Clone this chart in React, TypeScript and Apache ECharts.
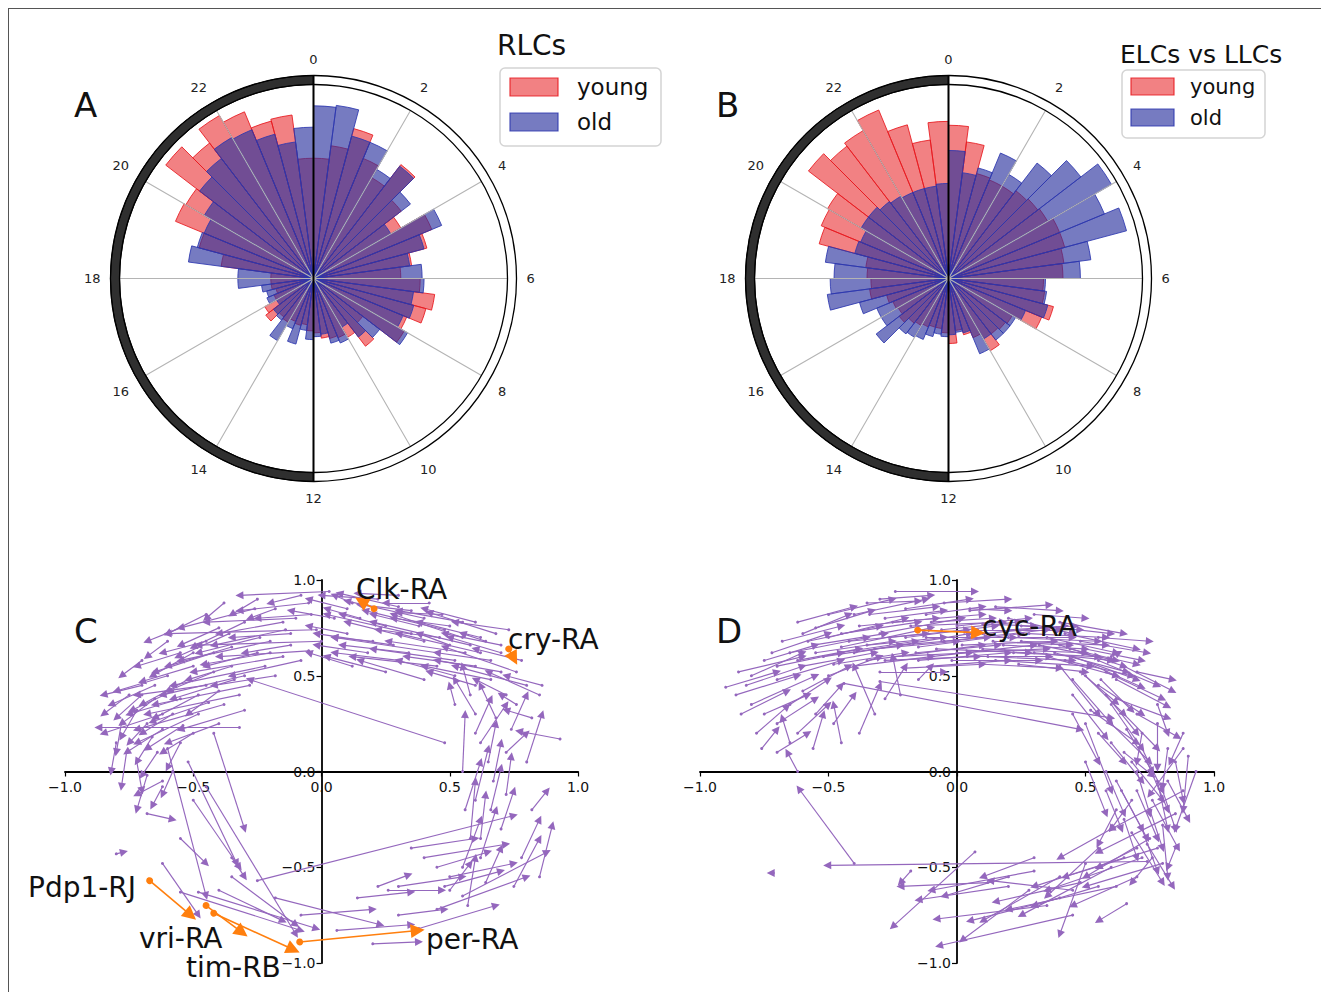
import React, { useEffect, useRef } from "react";
import * as echarts from "echarts";

// 48 half-hour bins (0h .. 23.5h)
const hourBins: string[] = Array.from({ length: 48 }, (_, i) => String(i / 2));
const hourTicks = [0, 2, 4, 6, 8, 10, 12, 14, 16, 18, 20, 22];

// Panel A (RLCs), normalised bar lengths
const aYoung = [
  0.62, 0.69, 0.80, 0.67, 0.60, 0.74, 0.57, 0.52, 0.66, 0.605, 0.51, 0.45,
  0.55, 0.63, 0.60, 0.52, 0.54, 0.32, 0.44, 0.35, 0.33, 0.32, 0.31, 0.28,
  0.27, 0.24, 0.25, 0.24, 0.26, 0.25, 0.31, 0.29, 0.22, 0.20, 0.22, 0.22,
  0.22, 0.48, 0.61, 0.77, 0.76, 0.96, 0.88, 0.97, 0.93, 0.84, 0.85, 0.62,
];
const aOld = [
  0.89, 0.90, 0.76, 0.76, 0.65, 0.73, 0.63, 0.46, 0.715, 0.59, 0.50, 0.56,
  0.57, 0.52, 0.535, 0.50, 0.56, 0.43, 0.38, 0.29, 0.36, 0.345, 0.29, 0.30,
  0.315, 0.27, 0.35, 0.28, 0.37, 0.27, 0.26, 0.22, 0.26, 0.25, 0.27, 0.39,
  0.39, 0.65, 0.62, 0.61, 0.65, 0.74, 0.78, 0.84, 0.83, 0.77, 0.71, 0.78,
];
// Panel B (ELCs vs LLCs)
const bYoung = [
  0.79, 0.71, 0.56, 0.55, 0.55, 0.57, 0.58, 0.59, 0.62, 0.62, 0.60, 0.59,
  0.49, 0.50, 0.56, 0.52, 0.38, 0.37, 0.36, 0.43, 0.33, 0.30, 0.27, 0.335,
  0.28, 0.26, 0.26, 0.27, 0.28, 0.29, 0.32, 0.30, 0.31, 0.33, 0.41, 0.40,
  0.42, 0.43, 0.69, 0.71, 0.72, 0.91, 0.86, 0.88, 0.94, 0.82, 0.72, 0.81,
];
const bOld = [
  0.66, 0.55, 0.59, 0.70, 0.62, 0.75, 0.86, 0.97, 0.87, 0.95, 0.74, 0.68,
  0.50, 0.51, 0.53, 0.43, 0.40, 0.40, 0.40, 0.36, 0.42, 0.29, 0.28, 0.29,
  0.30, 0.29, 0.31, 0.34, 0.35, 0.36, 0.47, 0.40, 0.40, 0.475, 0.63, 0.61,
  0.59, 0.64, 0.50, 0.49, 0.52, 0.52, 0.50, 0.49, 0.48, 0.48, 0.48, 0.49,
];

// Panel C arrows [x1, y1, x2, y2]
const arrowsC: number[][] = [
  [0.03, 0.94, -0.32, 0.92], [0.30, 0.86, 0.07, 0.93], [0.22, 0.90, 0.00, 0.92], [0.40, 0.80, 0.10, 0.89],
  [0.48, 0.74, 0.17, 0.84], [0.55, 0.70, 0.28, 0.82], [0.68, 0.72, 0.42, 0.83], [0.73, 0.74, 0.52, 0.78],
  [0.62, 0.62, 0.30, 0.72], [0.58, 0.66, 0.20, 0.78], [0.45, 0.62, 0.05, 0.70], [0.40, 0.68, 0.10, 0.78],
  [0.35, 0.72, 0.02, 0.82], [0.28, 0.66, -0.02, 0.72], [0.52, 0.58, 0.20, 0.64], [0.60, 0.55, 0.33, 0.60],
  [0.70, 0.52, 0.45, 0.58], [0.80, 0.45, 0.52, 0.55], [0.76, 0.52, 0.48, 0.65], [0.66, 0.48, 0.40, 0.55],
  [0.45, 0.55, 0.12, 0.60], [0.30, 0.58, 0.05, 0.62], [0.18, 0.62, -0.02, 0.66], [0.10, 0.72, -0.05, 0.76],
  [0.15, 0.80, 0.02, 0.85], [0.25, 0.76, 0.08, 0.82], [0.38, 0.76, 0.20, 0.82], [0.50, 0.66, 0.38, 0.72],
  [0.64, 0.68, 0.55, 0.72], [0.47, 0.82, 0.30, 0.83], [0.12, 0.88, 0.05, 0.92], [0.55, 0.78, 0.30, 0.84],
  [0.85, 0.40, 0.65, 0.52], [0.72, 0.40, 0.60, 0.48], [0.20, 0.68, 0.05, 0.70],
  [-0.05, 0.88, -0.32, 0.84], [-0.10, 0.80, -0.45, 0.78], [-0.02, 0.74, -0.60, 0.72], [0.00, 0.68, -0.48, 0.66],
  [-0.05, 0.63, -0.40, 0.60], [-0.12, 0.72, -0.35, 0.70], [-0.18, 0.85, -0.28, 0.80], [-0.25, 0.90, -0.35, 0.82],
  [-0.30, 0.78, -0.50, 0.65], [-0.20, 0.68, -0.55, 0.58], [-0.15, 0.60, -0.50, 0.52], [-0.22, 0.55, -0.58, 0.45],
  [-0.30, 0.50, -0.62, 0.40], [-0.35, 0.65, -0.60, 0.55], [-0.40, 0.75, -0.55, 0.66], [-0.45, 0.82, -0.60, 0.72],
  [-0.28, 0.45, -0.65, 0.35], [-0.32, 0.40, -0.68, 0.30], [-0.38, 0.35, -0.72, 0.22], [-0.32, 0.23, -0.87, 0.23],
  [-0.45, 0.45, -0.72, 0.40], [-0.50, 0.55, -0.70, 0.47], [-0.55, 0.62, -0.72, 0.55], [-0.60, 0.50, -0.80, 0.42],
  [-0.65, 0.45, -0.82, 0.35], [-0.62, 0.30, -0.85, 0.20], [-0.48, 0.30, -0.72, 0.15], [-0.55, 0.38, -0.75, 0.30],
  [-0.42, 0.62, -0.65, 0.52], [-0.08, 0.58, -0.35, 0.50], [-0.26, 0.85, -0.55, 0.75], [-0.38, 0.88, -0.45, 0.80],
  [-0.60, 0.68, -0.68, 0.60], [-0.70, 0.58, -0.78, 0.50], [-0.75, 0.40, -0.85, 0.30], [0.48, 0.15, -0.28, 0.48],
  [-0.40, 0.42, -0.52, 0.30], [-0.50, 0.20, -0.62, 0.10], [-0.68, 0.25, -0.75, 0.15], [-0.15, 0.78, -0.40, 0.72],
  [-0.76, 0.10, -0.78, -0.08], [-0.72, 0.05, -0.70, -0.10], [-0.68, -0.02, -0.72, -0.20], [-0.62, -0.08, -0.66, -0.18],
  [-0.80, 0.15, -0.82, 0.00], [-0.64, 0.10, -0.70, -0.02], [-0.58, 0.00, -0.62, -0.12], [-0.68, -0.22, -0.58, -0.25],
  [-0.55, 0.15, -0.60, 0.02], [-0.62, -0.05, -0.72, -0.12], [-0.80, -0.43, -0.77, -0.42],
  [-0.60, 0.12, -0.45, -0.65], [-0.52, 0.05, -0.33, -0.48], [-0.50, -0.15, -0.32, -0.50], [-0.45, -0.08, -0.10, -0.85],
  [-0.42, 0.20, -0.30, -0.30], [-0.55, -0.35, -0.45, -0.48], [-0.35, -0.45, -0.30, -0.55],
  [-0.62, -0.48, -0.48, -0.75], [-0.55, -0.63, -0.08, -0.83], [-0.48, -0.63, -0.02, -0.82], [-0.40, -0.62, -0.15, -0.78],
  [-0.18, -0.66, 0.23, -0.80], [-0.35, -0.55, -0.10, -0.80], [-0.25, -0.57, 0.75, -0.23], [0.20, -0.90, 0.38, -0.89],
  [0.14, -0.66, 0.35, -0.63], [0.26, -0.62, 0.47, -0.62], [0.22, -0.60, 0.34, -0.54], [0.40, -0.45, 0.72, -0.38],
  [0.45, -0.50, 0.65, -0.42], [0.35, -0.40, 0.60, -0.35], [0.50, -0.55, 0.75, -0.48], [0.30, -0.75, 0.48, -0.72],
  [0.45, -0.72, 0.80, -0.55], [0.55, -0.65, 0.88, -0.42], [0.38, -0.82, 0.68, -0.70],
  [0.55, -0.50, 0.62, -0.25], [0.58, -0.35, 0.60, -0.05], [0.55, 0.00, 0.56, 0.30], [0.60, -0.15, 0.65, 0.12],
  [0.65, 0.05, 0.68, 0.25], [0.70, -0.30, 0.75, -0.10], [0.78, -0.45, 0.85, -0.25], [0.82, -0.20, 0.88, -0.10],
  [0.62, 0.15, 0.72, 0.35], [0.72, 0.10, 0.80, 0.20], [0.80, 0.05, 0.86, 0.30], [0.68, 0.28, 0.62, 0.45],
  [0.58, 0.40, 0.55, 0.55], [0.64, -0.58, 0.70, -0.40], [0.75, -0.60, 0.85, -0.35], [0.93, 0.17, 0.77, 0.21],
  [0.82, 0.28, 0.72, 0.32], [0.67, -0.05, 0.70, 0.15], [0.85, -0.55, 0.90, -0.28], [0.60, 0.30, 0.52, 0.48],
  [0.76, 0.35, 0.70, 0.40], [0.57, -0.70, 0.60, -0.45],
  [-0.08, 0.92, -0.20, 0.88], [0.30, 0.92, 0.14, 0.93], [0.42, 0.88, 0.25, 0.88], [0.60, 0.78, 0.40, 0.85],
  [0.70, 0.62, 0.50, 0.70], [0.78, 0.58, 0.60, 0.64], [0.52, 0.50, 0.30, 0.58], [0.40, 0.48, 0.15, 0.58],
  [0.25, 0.52, 0.02, 0.60], [0.12, 0.55, -0.05, 0.62], [0.05, 0.80, -0.12, 0.84], [-0.12, 0.66, -0.30, 0.62],
  [-0.18, 0.50, -0.42, 0.45], [-0.25, 0.62, -0.45, 0.55], [-0.35, 0.55, -0.52, 0.48], [-0.42, 0.52, -0.60, 0.42],
  [-0.48, 0.40, -0.65, 0.28], [-0.52, 0.48, -0.70, 0.35], [-0.58, 0.30, -0.70, 0.20], [-0.65, 0.38, -0.78, 0.25],
  [-0.70, 0.45, -0.85, 0.40], [-0.45, 0.68, -0.62, 0.62], [-0.55, 0.75, -0.68, 0.68], [-0.30, 0.32, -0.55, 0.22],
  [-0.40, 0.25, -0.60, 0.15], [-0.72, 0.32, -0.78, 0.18], [-0.78, 0.25, -0.80, 0.10], [-0.66, 0.18, -0.72, 0.05],
  [0.66, 0.58, 0.45, 0.62], [0.60, 0.45, 0.42, 0.52], [0.86, 0.45, 0.72, 0.50], [0.52, 0.35, 0.50, 0.45],
  [0.62, -0.35, 0.64, -0.12], [0.66, -0.20, 0.70, 0.02], [0.50, -0.62, 0.58, -0.48], [0.72, -0.12, 0.74, 0.08],
  [0.10, 0.85, -0.05, 0.90], [0.35, 0.84, 0.15, 0.87], [0.50, 0.76, 0.28, 0.80], [0.62, 0.70, 0.38, 0.78],
  [0.70, 0.66, 0.48, 0.72], [0.46, 0.70, 0.22, 0.74], [0.34, 0.62, 0.08, 0.66], [0.56, 0.62, 0.26, 0.68],
  [-0.04, 0.82, -0.25, 0.80], [-0.14, 0.74, -0.42, 0.66], [-0.24, 0.70, -0.48, 0.62], [-0.20, 0.62, -0.46, 0.56],
  [-0.34, 0.48, -0.58, 0.38], [-0.44, 0.36, -0.66, 0.26], [-0.50, 0.62, -0.66, 0.50], [-0.36, 0.72, -0.56, 0.60],
  [-0.58, 0.42, -0.74, 0.32], [-0.62, 0.22, -0.76, 0.10], [-0.54, 0.24, -0.68, 0.12], [-0.70, 0.40, -0.80, 0.28],
  [0.60, 0.20, 0.66, 0.38], [0.74, 0.22, 0.80, 0.40], [0.56, -0.20, 0.62, 0.05], [0.62, -0.45, 0.68, -0.20],
  [0.48, -0.60, 0.70, -0.52], [0.30, -0.60, 0.55, -0.55], [-0.08, -0.75, 0.20, -0.72], [0.06, -0.83, 0.35, -0.80],
];
// highlighted genes in C: Pdp1-RJ, vri-RA, tim-RB, per-RA, Clk-RA, cry-RA
const highlightC: number[][] = [
  [-0.67, -0.57, -0.51, -0.75],
  [-0.45, -0.70, -0.31, -0.84],
  [-0.42, -0.74, -0.11, -0.93],
  [-0.085, -0.89, 0.375, -0.83],
  [0.205, 0.85, 0.155, 0.89],
  [0.73, 0.64, 0.75, 0.59],
];

// Panel D arrows
const arrowsD: number[][] = [
  [-0.24, 0.94, 0.07, 0.94], [-0.30, 0.90, -0.10, 0.92], [-0.35, 0.88, -0.15, 0.89], [-0.05, 0.88, 0.20, 0.90],
  [0.05, 0.84, 0.36, 0.87], [-0.40, 0.82, -0.12, 0.90], [-0.55, 0.75, -0.33, 0.84], [-0.60, 0.72, -0.42, 0.82],
  [-0.50, 0.70, -0.20, 0.80], [-0.45, 0.65, -0.10, 0.75], [-0.40, 0.62, 0.05, 0.72], [-0.35, 0.58, 0.10, 0.66],
  [-0.30, 0.72, 0.02, 0.80], [-0.25, 0.78, 0.10, 0.82], [-0.20, 0.70, 0.15, 0.76], [-0.15, 0.65, 0.25, 0.72],
  [-0.10, 0.60, 0.30, 0.66], [-0.05, 0.68, 0.35, 0.74], [0.00, 0.76, 0.28, 0.80], [0.05, 0.70, 0.45, 0.70],
  [0.10, 0.64, 0.50, 0.62], [0.15, 0.58, 0.52, 0.55], [0.20, 0.70, 0.55, 0.68], [0.25, 0.76, 0.48, 0.74],
  [0.30, 0.62, 0.60, 0.58], [0.35, 0.70, 0.62, 0.62], [0.40, 0.66, 0.65, 0.55], [0.45, 0.60, 0.70, 0.48],
  [0.50, 0.64, 0.72, 0.58], [0.55, 0.58, 0.78, 0.45], [0.60, 0.60, 0.63, 0.62], [0.55, 0.70, 0.75, 0.68],
  [0.65, 0.55, 0.84, 0.42], [0.70, 0.52, 0.84, 0.48], [-0.10, 0.55, 0.20, 0.58], [-0.25, 0.60, 0.05, 0.62],
  [-0.30, 0.52, -0.05, 0.52], [-0.65, 0.62, -0.35, 0.70], [-0.70, 0.55, -0.45, 0.62], [-0.75, 0.58, -0.55, 0.66],
  [-0.85, 0.52, -0.60, 0.60], [-0.82, 0.45, -0.60, 0.55], [-0.86, 0.40, -0.62, 0.50], [-0.80, 0.35, -0.55, 0.50],
  [-0.75, 0.30, -0.58, 0.40], [-0.70, 0.25, -0.55, 0.38], [-0.62, 0.20, -0.50, 0.35], [-0.55, 0.30, -0.45, 0.45],
  [-0.48, 0.25, -0.40, 0.40], [-0.70, 0.10, -0.58, 0.20], [-0.65, 0.15, -0.68, 0.28], [-0.76, 0.12, -0.70, 0.22],
  [-0.62, 0.00, -0.66, 0.10], [-0.45, 0.15, -0.48, 0.35], [-0.32, 0.30, -0.40, 0.55], [-0.22, 0.40, -0.25, 0.60],
  [-0.15, 0.48, -0.10, 0.55], [-0.60, 0.42, -0.42, 0.55], [-0.50, 0.50, -0.30, 0.60], [-0.90, 0.44, -0.70, 0.52],
  [-0.44, 0.46, 0.48, 0.22], [-0.30, 0.47, 0.60, 0.28], [0.05, 0.85, 0.20, 0.84], [0.30, 0.82, 0.50, 0.80],
  [0.40, 0.78, 0.65, 0.72], [0.20, 0.80, 0.45, 0.72], [-0.12, 0.82, 0.10, 0.86], [0.10, 0.77, 0.30, 0.76],
  [0.40, 0.55, 0.55, 0.30], [0.45, 0.48, 0.60, 0.25], [0.50, 0.50, 0.65, 0.30], [0.55, 0.45, 0.72, 0.30],
  [0.58, 0.40, 0.70, 0.20], [0.62, 0.38, 0.82, 0.28], [0.65, 0.30, 0.78, 0.12], [0.55, 0.20, 0.65, 0.05],
  [0.60, 0.15, 0.72, -0.05], [0.65, 0.10, 0.76, -0.02], [0.68, 0.05, 0.80, -0.15], [0.45, 0.30, 0.55, 0.05],
  [0.50, 0.25, 0.60, -0.10], [0.58, 0.00, 0.65, -0.22], [0.62, -0.05, 0.72, -0.30], [0.70, -0.10, 0.78, -0.35],
  [0.75, -0.20, 0.80, -0.40], [0.80, -0.10, 0.85, -0.30], [0.85, 0.05, 0.88, -0.15], [0.82, 0.12, 0.80, -0.08],
  [0.72, 0.20, 0.70, 0.05], [0.78, 0.25, 0.78, 0.02], [0.88, 0.12, 0.75, -0.12], [0.93, 0.00, 0.85, -0.30],
  [0.65, -0.25, 0.70, -0.45], [0.72, -0.30, 0.78, -0.52], [0.80, -0.28, 0.82, -0.55], [0.76, -0.45, 0.68, -0.58],
  [0.70, -0.40, 0.55, -0.50], [0.62, -0.20, 0.55, -0.38], [0.68, -0.15, 0.60, -0.30], [0.85, -0.40, 0.82, -0.50],
  [0.50, 0.05, 0.58, -0.22],
  [0.74, -0.47, -0.505, -0.49], [-0.40, -0.48, -0.615, -0.09], [0.12, -0.58, -0.22, -0.60], [0.20, -0.60, -0.15, -0.67],
  [0.35, -0.70, -0.08, -0.77], [0.45, -0.75, -0.07, -0.91], [0.07, -0.42, -0.25, -0.81], [0.28, -0.62, 0.02, -0.88],
  [0.40, -0.55, 0.10, -0.78], [0.45, -0.62, 0.13, -0.57], [0.50, -0.48, 0.40, -0.85], [0.60, -0.50, 0.25, -0.75],
  [0.66, -0.69, 0.55, -0.78], [0.55, -0.40, 0.35, -0.65], [0.70, -0.55, 0.45, -0.70], [0.80, -0.48, 0.50, -0.60],
  [0.75, -0.35, 0.50, -0.55], [0.65, -0.45, 0.30, -0.60], [0.85, -0.22, 0.55, -0.42], [0.88, -0.10, 0.60, -0.30],
  [0.20, -0.55, -0.05, -0.65], [-0.18, -0.52, -0.22, -0.58], [-0.715, -0.53, -0.725, -0.53], [0.30, -0.45, 0.10, -0.55],
  [0.55, -0.60, 0.30, -0.70], [0.60, -0.30, 0.40, -0.45],
  [-0.62, 0.78, -0.40, 0.86], [-0.50, 0.82, -0.25, 0.90], [-0.20, 0.85, 0.05, 0.90], [0.15, 0.86, 0.40, 0.84],
  [0.25, 0.68, 0.58, 0.66], [-0.35, 0.66, -0.05, 0.70], [-0.55, 0.62, -0.25, 0.68], [-0.60, 0.55, -0.32, 0.62],
  [-0.40, 0.55, -0.10, 0.60], [-0.15, 0.58, 0.20, 0.62], [0.00, 0.62, 0.35, 0.64], [0.10, 0.72, 0.42, 0.76],
  [0.35, 0.60, 0.62, 0.50], [-0.70, 0.48, -0.45, 0.58], [-0.80, 0.50, -0.60, 0.62], [-0.65, 0.35, -0.50, 0.48],
  [-0.28, 0.80, -0.05, 0.84], [0.42, 0.72, 0.70, 0.64], [0.45, 0.40, 0.58, 0.18], [0.52, 0.32, 0.70, 0.15],
  [0.60, 0.25, 0.75, 0.05], [0.70, 0.00, 0.75, -0.22], [0.78, -0.05, 0.82, -0.30], [0.78, 0.35, 0.82, 0.20],
  [0.88, 0.20, 0.83, 0.05],
  [-0.72, 0.62, -0.50, 0.72], [-0.68, 0.68, -0.45, 0.76], [-0.58, 0.68, -0.30, 0.76], [-0.52, 0.60, -0.22, 0.66],
  [-0.45, 0.72, -0.15, 0.78], [-0.38, 0.76, -0.08, 0.80], [-0.32, 0.64, 0.00, 0.68], [-0.28, 0.58, 0.08, 0.60],
  [-0.22, 0.66, 0.12, 0.70], [-0.18, 0.76, 0.18, 0.78], [-0.12, 0.70, 0.22, 0.70], [-0.08, 0.64, 0.28, 0.62],
  [-0.02, 0.58, 0.32, 0.58], [0.02, 0.66, 0.38, 0.68], [0.08, 0.74, 0.40, 0.74], [0.12, 0.60, 0.45, 0.58],
  [0.18, 0.66, 0.50, 0.64], [0.22, 0.62, 0.55, 0.60], [0.28, 0.72, 0.58, 0.70], [0.32, 0.66, 0.62, 0.58],
  [0.38, 0.62, 0.66, 0.52], [0.42, 0.58, 0.68, 0.50], [0.48, 0.68, 0.74, 0.62], [0.52, 0.56, 0.72, 0.44],
  [-0.62, 0.58, -0.38, 0.64], [-0.48, 0.56, -0.20, 0.62], [-0.42, 0.68, -0.12, 0.72], [-0.26, 0.70, 0.04, 0.74],
  [-0.16, 0.62, 0.16, 0.66], [-0.06, 0.74, 0.24, 0.78], [0.04, 0.60, 0.36, 0.60], [0.14, 0.68, 0.44, 0.66],
  [0.24, 0.56, 0.50, 0.52], [0.34, 0.76, 0.60, 0.72], [-0.34, 0.82, -0.08, 0.86], [-0.10, 0.78, 0.14, 0.80],
  [0.20, 0.74, 0.46, 0.76], [0.44, 0.64, 0.70, 0.56], [-0.56, 0.66, -0.28, 0.72], [-0.46, 0.62, -0.16, 0.68],
  [0.10, 0.56, 0.40, 0.54], [-0.20, 0.54, 0.10, 0.56], [0.58, 0.52, 0.80, 0.38], [0.62, 0.48, 0.82, 0.34],
  [0.48, 0.52, 0.62, 0.36], [0.56, 0.48, 0.68, 0.32],
  [0.60, 0.35, 0.72, 0.12], [0.66, 0.22, 0.76, 0.00], [0.72, 0.12, 0.80, -0.10], [0.70, 0.30, 0.86, 0.18],
  [0.74, 0.05, 0.82, -0.20], [0.64, -0.10, 0.74, -0.35], [0.76, -0.15, 0.86, -0.40], [0.82, -0.05, 0.90, -0.25],
  [0.68, -0.32, 0.80, -0.58], [0.74, -0.38, 0.84, -0.60], [0.58, -0.10, 0.64, -0.30], [0.90, 0.08, 0.88, -0.20],
  [0.62, -0.60, 0.20, -0.72], [0.72, -0.45, 0.35, -0.62], [0.48, -0.58, 0.15, -0.68], [0.40, -0.66, 0.05, -0.78],
  [0.78, -0.40, 0.42, -0.55], [0.30, -0.52, -0.10, -0.62],
  [-0.84, 0.30, -0.66, 0.42], [-0.78, 0.20, -0.66, 0.34], [-0.56, 0.12, -0.52, 0.30], [-0.38, 0.20, -0.30, 0.45],
  [-0.28, 0.38, -0.20, 0.55],
];
// highlighted gene in D: cyc-RA
const highlightD: number[][] = [[-0.153, 0.738, 0.082, 0.725]];

const geneLabelsC = ["Clk-RA", "cry-RA", "Pdp1-RJ", "vri-RA", "tim-RB", "per-RA"];
const geneLabelsD = ["cyc-RA"];
const seriesNames = ["young", "old"];

const FONT = "DejaVu Sans";
const RED = "rgba(232,25,30,0.55)";
const RED_EDGE = "rgba(232,25,30,0.85)";
const BLUE = "rgba(40,48,158,0.64)";
const BLUE_EDGE = "rgba(45,55,175,0.85)";
const PURPLE = "#9467bd";
const ORANGE = "#ff7f0e";

const CA = [313.5, 278.5];
const CB = [948.5, 278.5];
const R = 194;
const R2 = 203;

function numFmt(v: number) {
  return (v < 0 ? "\u2212" : "") + Math.abs(v).toFixed(1);
}

function polarDecor(c: number[]) {
  return [
    {
      type: "sector",
      z: 20,
      shape: { cx: c[0], cy: c[1], r0: R, r: R2, startAngle: Math.PI / 2, endAngle: Math.PI * 1.5, clockwise: true },
      style: { fill: "#2f2f2f", stroke: "#000", lineWidth: 1 },
    },
    {
      type: "circle",
      z: 20,
      shape: { cx: c[0], cy: c[1], r: R2 },
      style: { fill: "none", stroke: "#000", lineWidth: 1.3 },
    },
    {
      type: "circle",
      z: 20,
      shape: { cx: c[0], cy: c[1], r: R },
      style: { fill: "none", stroke: "#000", lineWidth: 1.3 },
    },
    {
      type: "line",
      z: 21,
      shape: { x1: c[0], y1: c[1] - R2, x2: c[0], y2: c[1] + R2 },
      style: { stroke: "#000", lineWidth: 2 },
    },
  ];
}

function legendBox(x: number, y: number, w: number, h: number, px: number, py1: number, py2: number, pw: number, ph: number, tx: number, fs: number) {
  return [
    { type: "rect", z: 30, shape: { x, y, width: w, height: h, r: 5 }, style: { fill: "rgba(255,255,255,0.85)", stroke: "#d4d4d4", lineWidth: 1.5 } },
    { type: "rect", z: 31, shape: { x: px, y: py1, width: pw, height: ph }, style: { fill: RED, stroke: RED_EDGE, lineWidth: 1.2 } },
    { type: "rect", z: 31, shape: { x: px, y: py2, width: pw, height: ph }, style: { fill: BLUE, stroke: BLUE_EDGE, lineWidth: 1.2 } },
    { type: "text", z: 31, x: tx, y: py1 + ph / 2, style: { text: seriesNames[0], font: `${fs}px '${FONT}'`, fill: "#111", textVerticalAlign: "middle" } },
    { type: "text", z: 31, x: tx, y: py2 + ph / 2, style: { text: seriesNames[1], font: `${fs}px '${FONT}'`, fill: "#111", textVerticalAlign: "middle" } },
  ];
}

function txt(text: string, x: number, y: number, size: number) {
  return { type: "text", z: 40, x, y, style: { text, font: `${size}px '${FONT}'`, fill: "#111", textVerticalAlign: "middle" } };
}

function barSeries(polarIndex: number, young: number[], old: number[]) {
  return [
    {
      type: "bar", coordinateSystem: "polar", polarIndex, name: seriesNames[0], data: young,
      barCategoryGap: "0%", barGap: "-100%",
      itemStyle: { color: RED, borderColor: RED_EDGE, borderWidth: 1 }, z: 2,
    },
    {
      type: "bar", coordinateSystem: "polar", polarIndex, name: seriesNames[1], data: old,
      barCategoryGap: "0%", barGap: "-100%",
      itemStyle: { color: BLUE, borderColor: BLUE_EDGE, borderWidth: 1 }, z: 3,
    },
  ];
}

function labelAngleAxis(polarIndex: number) {
  return {
    polarIndex, type: "value", min: 0, max: 24, interval: 2, startAngle: 90, clockwise: true, z: 5,
    axisLine: { show: false },
    axisTick: { show: false },
    axisLabel: {
      margin: 19, fontSize: 13, color: "#222", fontFamily: FONT,
      formatter: (v: number) => (hourTicks.indexOf(v) >= 0 ? String(v) : ""),
    },
    splitLine: { show: true, lineStyle: { color: "#b4b4b4", width: 1.1 } },
  };
}

function arrowSeries(data: number[][], xi: number, color: string, sizes: number[], width: number, z: number) {
  return {
    type: "lines", coordinateSystem: "cartesian2d", xAxisIndex: xi, yAxisIndex: xi, z,
    symbol: ["circle", "triangle"], symbolSize: sizes,
    lineStyle: { color, width, opacity: 1 },
    itemStyle: { color },
    data: data.map((a) => ({ coords: [[a[0], a[1]], [a[2], a[3]]] })),
  };
}

function cartAxis(gridIndex: number, isX: boolean, offset: number) {
  return {
    gridIndex, type: "value", min: -1, max: 1, interval: 0.5,
    position: isX ? "bottom" : "left",
    offset,
    axisLine: { show: true, onZero: false, lineStyle: { color: "#000", width: 1.8 } },
    axisTick: { show: true, length: 5, lineStyle: { color: "#000", width: 1.2 } },
    axisLabel: { fontSize: 14, color: "#111", fontFamily: FONT, margin: isX ? 8 : 6, formatter: numFmt },
    splitLine: { show: false },
  };
}

export default function App() {
  const ref = useRef<HTMLDivElement>(null);
  useEffect(() => {
    document.body.style.margin = "0";
    if (!ref.current) return;
    const chart = echarts.init(ref.current, null, { renderer: "svg" });
    const option: any = {
      animation: false,
      backgroundColor: "#fff",
      textStyle: { fontFamily: FONT },
      polar: [
        { center: CA, radius: [0, R] },
        { center: CA, radius: [0, R] },
        { center: CB, radius: [0, R] },
        { center: CB, radius: [0, R] },
      ],
      angleAxis: [
        { polarIndex: 0, type: "category", data: hourBins, startAngle: 90, clockwise: true, boundaryGap: true, show: false },
        labelAngleAxis(1),
        { polarIndex: 2, type: "category", data: hourBins, startAngle: 90, clockwise: true, boundaryGap: true, show: false },
        labelAngleAxis(3),
      ],
      radiusAxis: [0, 1, 2, 3].map((i) => ({ polarIndex: i, type: "value", min: 0, max: 1, show: false })),
      grid: [
        { left: 65, top: 580, width: 513, height: 383 },
        { left: 700, top: 580, width: 514, height: 383 },
      ],
      xAxis: [cartAxis(0, true, -191.5), cartAxis(1, true, -191.5)],
      yAxis: [cartAxis(0, false, -256.5), cartAxis(1, false, -257)],
      series: [
        ...barSeries(0, aYoung, aOld),
        ...barSeries(2, bYoung, bOld),
        arrowSeries(arrowsC, 0, PURPLE, [3, 8], 1.15, 3),
        arrowSeries(highlightC, 0, ORANGE, [7, 14], 1.6, 4),
        arrowSeries(arrowsD, 1, PURPLE, [3, 8], 1.15, 3),
        arrowSeries(highlightD, 1, ORANGE, [7, 14], 1.6, 4),
      ],
      graphic: [
        { type: "line", z: 50, shape: { x1: 8, y1: 8.5, x2: 1321, y2: 8.5 }, style: { stroke: "#555", lineWidth: 1 } },
        { type: "line", z: 50, shape: { x1: 8.5, y1: 8, x2: 8.5, y2: 992 }, style: { stroke: "#555", lineWidth: 1 } },
        ...polarDecor(CA),
        ...polarDecor(CB),
        ...legendBox(500, 68, 161, 78, 510, 78, 113, 48, 18, 577, 23),
        ...legendBox(1122, 70, 143, 68, 1131, 78, 109, 43, 17, 1190, 21),
        txt("RLCs", 497, 45, 28),
        txt("ELCs vs LLCs", 1120, 54, 25),
        txt("A", 74, 105, 34),
        txt("B", 716, 105, 34),
        txt("C", 74, 631, 34),
        txt("D", 716, 631, 34),
        txt(geneLabelsC[0], 356, 589, 28),
        txt(geneLabelsC[1], 508, 639, 28),
        txt(geneLabelsC[2], 28, 887, 28),
        txt(geneLabelsC[3], 139, 938, 28),
        txt(geneLabelsC[4], 186, 967, 28),
        txt(geneLabelsC[5], 426, 939, 28),
        txt(geneLabelsD[0], 982, 626, 28),
      ],
    };
    chart.setOption(option);
    return () => chart.dispose();
  }, []);
  return <div ref={ref} style={{ width: 1321, height: 992 }} />;
}
